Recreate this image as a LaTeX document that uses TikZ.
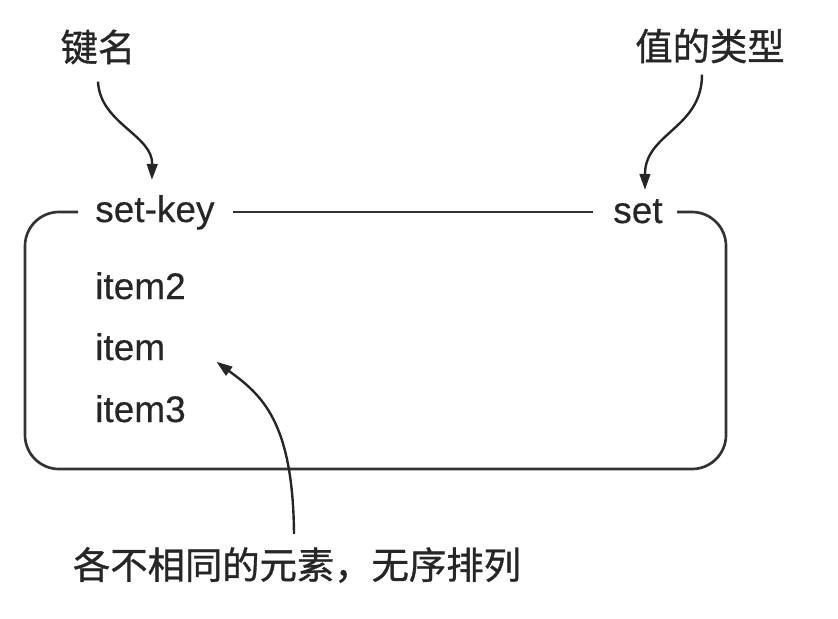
\documentclass[tikz,border=0pt]{standalone}
\usepackage{fontspec}
\setmainfont{Liberation Sans}[FakeBold=0.4]
\newfontfamily\cjk{Noto Sans CJK SC}[FakeBold=0.9]
\usetikzlibrary{arrows.meta,calc}
\begin{document}
\begin{tikzpicture}[x=0.75pt,y=-0.75pt,
  txt/.style={font=\fontsize{27.75pt}{30pt}\selectfont, inner sep=0pt, text=black!85},
  cjktxt/.style={font=\fontsize{28pt}{30pt}\selectfont\cjk, inner sep=0pt, text=black!85},
  arr/.style={draw=black!85, line width=1.8pt, -{Triangle[length=12pt,width=8pt]}},
  boxline/.style={draw=black!80, line width=2pt, rounded corners=25.5pt}]
\useasboundingbox (0,0) rectangle (838,618);
% texts
\node[txt,anchor=base west] (setkey) at (95,222) {set-key};
\node[txt,anchor=base west] (settype) at (613,223) {set};
\node[txt,anchor=base west] (item2) at (95,299) {item2};
\node[txt,anchor=base west] (item) at (95,360) {item};
\node[txt,anchor=base west] (item3) at (95,422) {item3};
\node[cjktxt] (keylabel) at (98,47) {键名};
\node[cjktxt] (typelabel) at (710,46) {值的类型};
\node[cjktxt] (note) at (297,565) {各不相同的元素，无序排列};
% box outline
\draw[boxline] (78,212) -- (25,212) -- (25,469) -- (726,469) -- (726,212) -- (677,212);
\draw[boxline] (233,212) -- (593,212);
% arrows
\draw[arr] ($(keylabel.south)+(0,17)$) .. controls +(2,42) and +(1,-45) .. ($(setkey.north)+(-3,-15)$);
\draw[arr] ($(typelabel.south)+(-8,11)$) .. controls +(0,54) and +(0,-57) .. ($(settype.north)+(7,-9)$);
\draw[arr] ($(note.north)+(-3,-13)$) .. controls +(-1,-113) and +(45,33) .. ($(item.east)+(51,15)$);
\end{tikzpicture}
\end{document}
